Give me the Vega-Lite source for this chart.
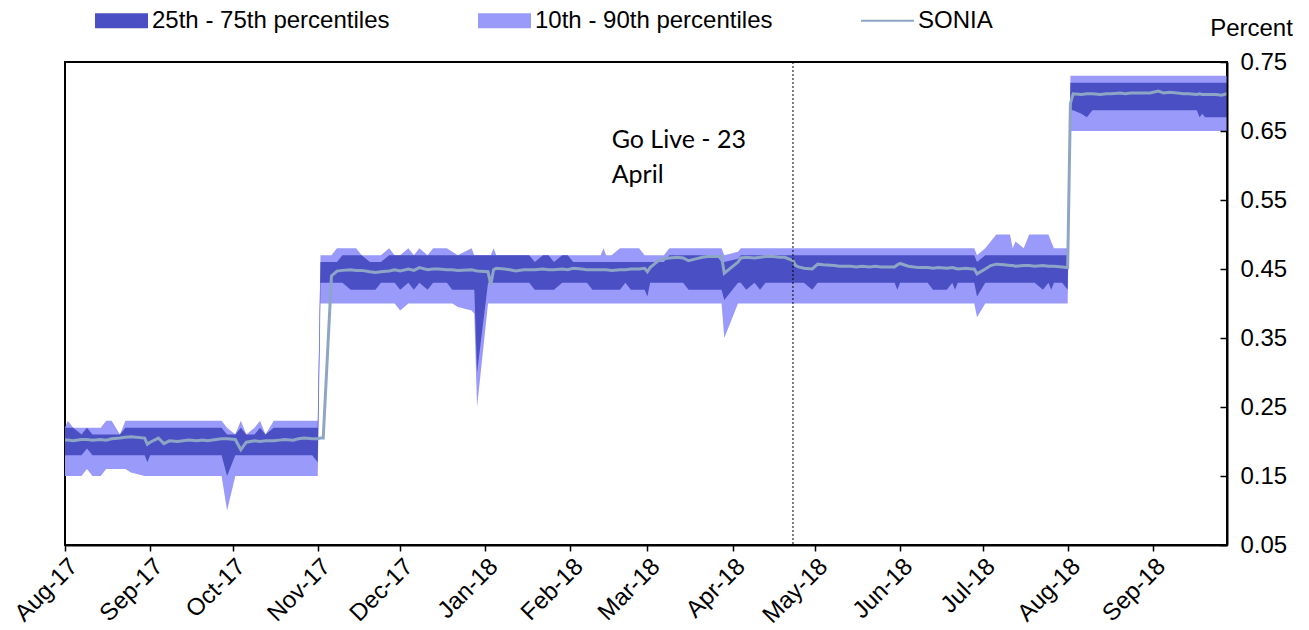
{
  "$schema": "https://vega.github.io/schema/vega-lite/v6.json",
  "width": 1162,
  "height": 483,
  "autosize": {"type": "none"},
  "padding": {"left": 65, "top": 62, "right": 82, "bottom": 85},
  "background": "white",
  "config": {
    "view": {"stroke": "black", "strokeWidth": 2},
    "axis": {"grid": false}
  },
  "layer": [
    {
      "data": {"values": [
        {"d":"2017-08-01","p10":0.15,"p25":0.18,"p75":0.22,"p90":0.22,"s":0.202},
        {"d":"2017-08-02","p10":0.15,"p25":0.18,"p75":0.22,"p90":0.23,"s":0.202},
        {"d":"2017-08-04","p10":0.15,"p25":0.18,"p75":0.22,"p90":0.22,"s":0.201},
        {"d":"2017-08-07","p10":0.15,"p25":0.18,"p75":0.21,"p90":0.22,"s":0.203},
        {"d":"2017-08-09","p10":0.16,"p25":0.19,"p75":0.22,"p90":0.22,"s":0.203},
        {"d":"2017-08-11","p10":0.15,"p25":0.18,"p75":0.21,"p90":0.22,"s":0.202},
        {"d":"2017-08-14","p10":0.15,"p25":0.18,"p75":0.21,"p90":0.22,"s":0.203},
        {"d":"2017-08-16","p10":0.16,"p25":0.18,"p75":0.21,"p90":0.23,"s":0.202},
        {"d":"2017-08-18","p10":0.16,"p25":0.18,"p75":0.21,"p90":0.23,"s":0.204},
        {"d":"2017-08-21","p10":0.16,"p25":0.18,"p75":0.21,"p90":0.21,"s":0.205},
        {"d":"2017-08-23","p10":0.16,"p25":0.18,"p75":0.22,"p90":0.23,"s":0.206},
        {"d":"2017-08-25","p10":0.155,"p25":0.18,"p75":0.22,"p90":0.23,"s":0.207},
        {"d":"2017-08-30","p10":0.15,"p25":0.18,"p75":0.22,"p90":0.23,"s":0.205},
        {"d":"2017-08-31","p10":0.15,"p25":0.17,"p75":0.22,"p90":0.23,"s":0.196},
        {"d":"2017-09-01","p10":0.15,"p25":0.18,"p75":0.22,"p90":0.23,"s":0.199},
        {"d":"2017-09-04","p10":0.15,"p25":0.18,"p75":0.22,"p90":0.23,"s":0.205},
        {"d":"2017-09-06","p10":0.15,"p25":0.18,"p75":0.22,"p90":0.23,"s":0.197},
        {"d":"2017-09-08","p10":0.15,"p25":0.18,"p75":0.22,"p90":0.23,"s":0.201},
        {"d":"2017-09-11","p10":0.15,"p25":0.18,"p75":0.22,"p90":0.23,"s":0.200},
        {"d":"2017-09-13","p10":0.15,"p25":0.18,"p75":0.22,"p90":0.23,"s":0.201},
        {"d":"2017-09-15","p10":0.15,"p25":0.18,"p75":0.22,"p90":0.23,"s":0.202},
        {"d":"2017-09-18","p10":0.15,"p25":0.18,"p75":0.22,"p90":0.23,"s":0.201},
        {"d":"2017-09-20","p10":0.15,"p25":0.18,"p75":0.22,"p90":0.23,"s":0.202},
        {"d":"2017-09-22","p10":0.15,"p25":0.18,"p75":0.22,"p90":0.23,"s":0.201},
        {"d":"2017-09-25","p10":0.15,"p25":0.18,"p75":0.22,"p90":0.23,"s":0.203},
        {"d":"2017-09-27","p10":0.15,"p25":0.18,"p75":0.22,"p90":0.23,"s":0.204},
        {"d":"2017-09-29","p10":0.10,"p25":0.15,"p75":0.21,"p90":0.22,"s":0.204},
        {"d":"2017-10-02","p10":0.15,"p25":0.18,"p75":0.21,"p90":0.21,"s":0.203},
        {"d":"2017-10-04","p10":0.15,"p25":0.18,"p75":0.22,"p90":0.23,"s":0.188},
        {"d":"2017-10-06","p10":0.15,"p25":0.18,"p75":0.21,"p90":0.21,"s":0.199},
        {"d":"2017-10-09","p10":0.15,"p25":0.18,"p75":0.21,"p90":0.22,"s":0.201},
        {"d":"2017-10-11","p10":0.15,"p25":0.18,"p75":0.22,"p90":0.23,"s":0.200},
        {"d":"2017-10-13","p10":0.15,"p25":0.18,"p75":0.21,"p90":0.21,"s":0.201},
        {"d":"2017-10-16","p10":0.15,"p25":0.18,"p75":0.22,"p90":0.23,"s":0.201},
        {"d":"2017-10-18","p10":0.15,"p25":0.18,"p75":0.22,"p90":0.23,"s":0.202},
        {"d":"2017-10-20","p10":0.15,"p25":0.18,"p75":0.22,"p90":0.23,"s":0.203},
        {"d":"2017-10-23","p10":0.15,"p25":0.18,"p75":0.22,"p90":0.23,"s":0.202},
        {"d":"2017-10-25","p10":0.15,"p25":0.18,"p75":0.22,"p90":0.23,"s":0.204},
        {"d":"2017-10-27","p10":0.15,"p25":0.18,"p75":0.22,"p90":0.23,"s":0.205},
        {"d":"2017-10-30","p10":0.15,"p25":0.18,"p75":0.22,"p90":0.23,"s":0.204},
        {"d":"2017-11-01","p10":0.15,"p25":0.17,"p75":0.22,"p90":0.23,"s":0.204},
        {"d":"2017-11-02","p10":0.40,"p25":0.43,"p75":0.46,"p90":0.47,"s":0.205},
        {"d":"2017-11-03","p10":0.40,"p25":0.43,"p75":0.46,"p90":0.47,"s":0.205},
        {"d":"2017-11-06","p10":0.40,"p25":0.43,"p75":0.46,"p90":0.47,"s":0.440},
        {"d":"2017-11-08","p10":0.40,"p25":0.43,"p75":0.46,"p90":0.48,"s":0.447},
        {"d":"2017-11-10","p10":0.40,"p25":0.43,"p75":0.47,"p90":0.48,"s":0.448},
        {"d":"2017-11-13","p10":0.40,"p25":0.42,"p75":0.47,"p90":0.48,"s":0.449},
        {"d":"2017-11-15","p10":0.40,"p25":0.42,"p75":0.47,"p90":0.48,"s":0.448},
        {"d":"2017-11-17","p10":0.40,"p25":0.42,"p75":0.47,"p90":0.47,"s":0.448},
        {"d":"2017-11-20","p10":0.40,"p25":0.42,"p75":0.46,"p90":0.47,"s":0.446},
        {"d":"2017-11-22","p10":0.40,"p25":0.42,"p75":0.46,"p90":0.47,"s":0.445},
        {"d":"2017-11-24","p10":0.40,"p25":0.43,"p75":0.46,"p90":0.47,"s":0.446},
        {"d":"2017-11-27","p10":0.40,"p25":0.43,"p75":0.47,"p90":0.48,"s":0.447},
        {"d":"2017-11-29","p10":0.40,"p25":0.43,"p75":0.47,"p90":0.47,"s":0.449},
        {"d":"2017-12-01","p10":0.39,"p25":0.42,"p75":0.47,"p90":0.47,"s":0.447},
        {"d":"2017-12-04","p10":0.40,"p25":0.43,"p75":0.47,"p90":0.48,"s":0.450},
        {"d":"2017-12-06","p10":0.40,"p25":0.42,"p75":0.47,"p90":0.47,"s":0.448},
        {"d":"2017-12-08","p10":0.40,"p25":0.43,"p75":0.47,"p90":0.48,"s":0.452},
        {"d":"2017-12-11","p10":0.40,"p25":0.42,"p75":0.47,"p90":0.47,"s":0.449},
        {"d":"2017-12-13","p10":0.40,"p25":0.43,"p75":0.47,"p90":0.48,"s":0.450},
        {"d":"2017-12-15","p10":0.40,"p25":0.43,"p75":0.47,"p90":0.48,"s":0.450},
        {"d":"2017-12-18","p10":0.40,"p25":0.43,"p75":0.47,"p90":0.48,"s":0.449},
        {"d":"2017-12-20","p10":0.40,"p25":0.42,"p75":0.47,"p90":0.475,"s":0.449},
        {"d":"2017-12-22","p10":0.395,"p25":0.42,"p75":0.47,"p90":0.47,"s":0.448},
        {"d":"2017-12-27","p10":0.39,"p25":0.42,"p75":0.47,"p90":0.48,"s":0.449},
        {"d":"2017-12-28","p10":0.385,"p25":0.42,"p75":0.47,"p90":0.47,"s":0.448},
        {"d":"2017-12-29","p10":0.25,"p25":0.30,"p75":0.47,"p90":0.47,"s":0.447},
        {"d":"2018-01-02","p10":0.40,"p25":0.43,"p75":0.47,"p90":0.47,"s":0.446},
        {"d":"2018-01-03","p10":0.40,"p25":0.43,"p75":0.47,"p90":0.47,"s":0.427},
        {"d":"2018-01-04","p10":0.40,"p25":0.43,"p75":0.47,"p90":0.48,"s":0.449},
        {"d":"2018-01-05","p10":0.40,"p25":0.43,"p75":0.47,"p90":0.47,"s":0.451},
        {"d":"2018-01-08","p10":0.40,"p25":0.43,"p75":0.47,"p90":0.47,"s":0.450},
        {"d":"2018-01-10","p10":0.40,"p25":0.43,"p75":0.47,"p90":0.47,"s":0.449},
        {"d":"2018-01-12","p10":0.40,"p25":0.43,"p75":0.47,"p90":0.47,"s":0.447},
        {"d":"2018-01-15","p10":0.40,"p25":0.43,"p75":0.47,"p90":0.47,"s":0.449},
        {"d":"2018-01-17","p10":0.40,"p25":0.43,"p75":0.47,"p90":0.47,"s":0.449},
        {"d":"2018-01-19","p10":0.40,"p25":0.42,"p75":0.46,"p90":0.47,"s":0.449},
        {"d":"2018-01-22","p10":0.40,"p25":0.42,"p75":0.47,"p90":0.47,"s":0.450},
        {"d":"2018-01-24","p10":0.40,"p25":0.42,"p75":0.47,"p90":0.47,"s":0.449},
        {"d":"2018-01-26","p10":0.40,"p25":0.42,"p75":0.46,"p90":0.47,"s":0.449},
        {"d":"2018-01-29","p10":0.40,"p25":0.43,"p75":0.47,"p90":0.47,"s":0.450},
        {"d":"2018-01-31","p10":0.40,"p25":0.43,"p75":0.47,"p90":0.47,"s":0.449},
        {"d":"2018-02-02","p10":0.40,"p25":0.43,"p75":0.46,"p90":0.47,"s":0.451},
        {"d":"2018-02-05","p10":0.40,"p25":0.43,"p75":0.46,"p90":0.47,"s":0.450},
        {"d":"2018-02-07","p10":0.40,"p25":0.43,"p75":0.46,"p90":0.47,"s":0.449},
        {"d":"2018-02-09","p10":0.40,"p25":0.42,"p75":0.46,"p90":0.47,"s":0.449},
        {"d":"2018-02-12","p10":0.40,"p25":0.42,"p75":0.46,"p90":0.47,"s":0.449},
        {"d":"2018-02-13","p10":0.40,"p25":0.42,"p75":0.46,"p90":0.48,"s":0.449},
        {"d":"2018-02-14","p10":0.40,"p25":0.42,"p75":0.46,"p90":0.47,"s":0.449},
        {"d":"2018-02-16","p10":0.40,"p25":0.42,"p75":0.46,"p90":0.47,"s":0.448},
        {"d":"2018-02-19","p10":0.40,"p25":0.42,"p75":0.46,"p90":0.48,"s":0.449},
        {"d":"2018-02-21","p10":0.40,"p25":0.43,"p75":0.46,"p90":0.48,"s":0.449},
        {"d":"2018-02-23","p10":0.40,"p25":0.42,"p75":0.46,"p90":0.48,"s":0.450},
        {"d":"2018-02-26","p10":0.40,"p25":0.42,"p75":0.46,"p90":0.48,"s":0.450},
        {"d":"2018-02-28","p10":0.40,"p25":0.42,"p75":0.46,"p90":0.47,"s":0.451},
        {"d":"2018-03-01","p10":0.40,"p25":0.41,"p75":0.46,"p90":0.47,"s":0.446},
        {"d":"2018-03-02","p10":0.40,"p25":0.43,"p75":0.46,"p90":0.47,"s":0.452},
        {"d":"2018-03-05","p10":0.40,"p25":0.43,"p75":0.46,"p90":0.47,"s":0.462},
        {"d":"2018-03-07","p10":0.40,"p25":0.43,"p75":0.46,"p90":0.47,"s":0.465},
        {"d":"2018-03-09","p10":0.40,"p25":0.43,"p75":0.47,"p90":0.48,"s":0.466},
        {"d":"2018-03-12","p10":0.40,"p25":0.43,"p75":0.47,"p90":0.48,"s":0.467},
        {"d":"2018-03-14","p10":0.40,"p25":0.43,"p75":0.47,"p90":0.48,"s":0.466},
        {"d":"2018-03-16","p10":0.40,"p25":0.42,"p75":0.47,"p90":0.48,"s":0.462},
        {"d":"2018-03-19","p10":0.40,"p25":0.42,"p75":0.47,"p90":0.48,"s":0.465},
        {"d":"2018-03-21","p10":0.40,"p25":0.42,"p75":0.47,"p90":0.48,"s":0.467},
        {"d":"2018-03-23","p10":0.40,"p25":0.42,"p75":0.47,"p90":0.48,"s":0.468},
        {"d":"2018-03-26","p10":0.40,"p25":0.42,"p75":0.47,"p90":0.48,"s":0.468},
        {"d":"2018-03-28","p10":0.40,"p25":0.42,"p75":0.46,"p90":0.48,"s":0.468},
        {"d":"2018-03-29","p10":0.35,"p25":0.405,"p75":0.46,"p90":0.47,"s":0.444},
        {"d":"2018-04-03","p10":0.40,"p25":0.43,"p75":0.465,"p90":0.475,"s":0.460},
        {"d":"2018-04-04","p10":0.40,"p25":0.43,"p75":0.47,"p90":0.48,"s":0.466},
        {"d":"2018-04-06","p10":0.40,"p25":0.42,"p75":0.47,"p90":0.48,"s":0.467},
        {"d":"2018-04-09","p10":0.40,"p25":0.43,"p75":0.47,"p90":0.48,"s":0.466},
        {"d":"2018-04-11","p10":0.40,"p25":0.42,"p75":0.47,"p90":0.48,"s":0.467},
        {"d":"2018-04-13","p10":0.40,"p25":0.43,"p75":0.47,"p90":0.48,"s":0.468},
        {"d":"2018-04-16","p10":0.40,"p25":0.43,"p75":0.47,"p90":0.48,"s":0.468},
        {"d":"2018-04-18","p10":0.40,"p25":0.43,"p75":0.47,"p90":0.48,"s":0.467},
        {"d":"2018-04-20","p10":0.40,"p25":0.43,"p75":0.47,"p90":0.48,"s":0.467},
        {"d":"2018-04-23","p10":0.40,"p25":0.43,"p75":0.47,"p90":0.48,"s":0.462},
        {"d":"2018-04-24","p10":0.40,"p25":0.43,"p75":0.47,"p90":0.48,"s":0.455},
        {"d":"2018-04-25","p10":0.40,"p25":0.43,"p75":0.47,"p90":0.48,"s":0.453},
        {"d":"2018-04-27","p10":0.40,"p25":0.43,"p75":0.47,"p90":0.48,"s":0.451},
        {"d":"2018-04-30","p10":0.40,"p25":0.42,"p75":0.47,"p90":0.48,"s":0.450},
        {"d":"2018-05-02","p10":0.40,"p25":0.43,"p75":0.47,"p90":0.48,"s":0.457},
        {"d":"2018-05-04","p10":0.40,"p25":0.43,"p75":0.47,"p90":0.48,"s":0.456},
        {"d":"2018-05-08","p10":0.40,"p25":0.43,"p75":0.47,"p90":0.48,"s":0.455},
        {"d":"2018-05-10","p10":0.40,"p25":0.43,"p75":0.47,"p90":0.48,"s":0.454},
        {"d":"2018-05-14","p10":0.40,"p25":0.43,"p75":0.47,"p90":0.48,"s":0.454},
        {"d":"2018-05-16","p10":0.40,"p25":0.43,"p75":0.47,"p90":0.48,"s":0.453},
        {"d":"2018-05-18","p10":0.40,"p25":0.43,"p75":0.47,"p90":0.48,"s":0.454},
        {"d":"2018-05-21","p10":0.40,"p25":0.43,"p75":0.47,"p90":0.48,"s":0.453},
        {"d":"2018-05-23","p10":0.40,"p25":0.43,"p75":0.47,"p90":0.48,"s":0.454},
        {"d":"2018-05-25","p10":0.40,"p25":0.43,"p75":0.47,"p90":0.48,"s":0.453},
        {"d":"2018-05-30","p10":0.40,"p25":0.43,"p75":0.47,"p90":0.48,"s":0.453},
        {"d":"2018-05-31","p10":0.40,"p25":0.42,"p75":0.47,"p90":0.48,"s":0.456},
        {"d":"2018-06-01","p10":0.40,"p25":0.43,"p75":0.47,"p90":0.48,"s":0.458},
        {"d":"2018-06-04","p10":0.40,"p25":0.43,"p75":0.47,"p90":0.48,"s":0.454},
        {"d":"2018-06-06","p10":0.40,"p25":0.43,"p75":0.47,"p90":0.48,"s":0.453},
        {"d":"2018-06-08","p10":0.40,"p25":0.43,"p75":0.47,"p90":0.48,"s":0.452},
        {"d":"2018-06-11","p10":0.40,"p25":0.43,"p75":0.47,"p90":0.48,"s":0.452},
        {"d":"2018-06-13","p10":0.40,"p25":0.42,"p75":0.47,"p90":0.48,"s":0.451},
        {"d":"2018-06-15","p10":0.40,"p25":0.42,"p75":0.47,"p90":0.48,"s":0.452},
        {"d":"2018-06-18","p10":0.40,"p25":0.42,"p75":0.47,"p90":0.48,"s":0.451},
        {"d":"2018-06-20","p10":0.40,"p25":0.43,"p75":0.47,"p90":0.48,"s":0.452},
        {"d":"2018-06-21","p10":0.40,"p25":0.42,"p75":0.47,"p90":0.48,"s":0.451},
        {"d":"2018-06-22","p10":0.40,"p25":0.43,"p75":0.47,"p90":0.48,"s":0.450},
        {"d":"2018-06-25","p10":0.40,"p25":0.43,"p75":0.47,"p90":0.48,"s":0.451},
        {"d":"2018-06-27","p10":0.40,"p25":0.43,"p75":0.47,"p90":0.48,"s":0.450},
        {"d":"2018-06-28","p10":0.40,"p25":0.43,"p75":0.47,"p90":0.48,"s":0.450},
        {"d":"2018-06-29","p10":0.38,"p25":0.41,"p75":0.46,"p90":0.47,"s":0.443},
        {"d":"2018-07-02","p10":0.40,"p25":0.43,"p75":0.47,"p90":0.48,"s":0.450},
        {"d":"2018-07-04","p10":0.40,"p25":0.43,"p75":0.47,"p90":0.49,"s":0.455},
        {"d":"2018-07-06","p10":0.40,"p25":0.43,"p75":0.47,"p90":0.50,"s":0.457},
        {"d":"2018-07-09","p10":0.40,"p25":0.43,"p75":0.47,"p90":0.50,"s":0.456},
        {"d":"2018-07-11","p10":0.40,"p25":0.43,"p75":0.47,"p90":0.50,"s":0.455},
        {"d":"2018-07-12","p10":0.40,"p25":0.43,"p75":0.47,"p90":0.48,"s":0.455},
        {"d":"2018-07-13","p10":0.40,"p25":0.43,"p75":0.47,"p90":0.49,"s":0.454},
        {"d":"2018-07-16","p10":0.40,"p25":0.43,"p75":0.47,"p90":0.48,"s":0.455},
        {"d":"2018-07-18","p10":0.40,"p25":0.43,"p75":0.47,"p90":0.50,"s":0.455},
        {"d":"2018-07-20","p10":0.40,"p25":0.43,"p75":0.47,"p90":0.50,"s":0.454},
        {"d":"2018-07-23","p10":0.40,"p25":0.42,"p75":0.47,"p90":0.50,"s":0.455},
        {"d":"2018-07-25","p10":0.40,"p25":0.43,"p75":0.47,"p90":0.50,"s":0.454},
        {"d":"2018-07-26","p10":0.40,"p25":0.42,"p75":0.47,"p90":0.49,"s":0.454},
        {"d":"2018-07-27","p10":0.40,"p25":0.43,"p75":0.47,"p90":0.48,"s":0.454},
        {"d":"2018-07-30","p10":0.40,"p25":0.43,"p75":0.47,"p90":0.48,"s":0.453},
        {"d":"2018-08-01","p10":0.40,"p25":0.42,"p75":0.47,"p90":0.48,"s":0.452},
        {"d":"2018-08-02","p10":0.65,"p25":0.68,"p75":0.72,"p90":0.73,"s":0.690},
        {"d":"2018-08-03","p10":0.65,"p25":0.68,"p75":0.72,"p90":0.73,"s":0.704},
        {"d":"2018-08-06","p10":0.65,"p25":0.675,"p75":0.72,"p90":0.73,"s":0.703},
        {"d":"2018-08-08","p10":0.65,"p25":0.67,"p75":0.72,"p90":0.73,"s":0.704},
        {"d":"2018-08-10","p10":0.65,"p25":0.68,"p75":0.72,"p90":0.73,"s":0.704},
        {"d":"2018-08-13","p10":0.65,"p25":0.68,"p75":0.72,"p90":0.73,"s":0.703},
        {"d":"2018-08-15","p10":0.65,"p25":0.68,"p75":0.72,"p90":0.73,"s":0.704},
        {"d":"2018-08-17","p10":0.65,"p25":0.68,"p75":0.72,"p90":0.73,"s":0.704},
        {"d":"2018-08-20","p10":0.65,"p25":0.68,"p75":0.72,"p90":0.73,"s":0.705},
        {"d":"2018-08-22","p10":0.65,"p25":0.68,"p75":0.72,"p90":0.73,"s":0.704},
        {"d":"2018-08-24","p10":0.65,"p25":0.68,"p75":0.72,"p90":0.73,"s":0.705},
        {"d":"2018-08-29","p10":0.65,"p25":0.68,"p75":0.72,"p90":0.73,"s":0.705},
        {"d":"2018-08-31","p10":0.65,"p25":0.68,"p75":0.72,"p90":0.73,"s":0.705},
        {"d":"2018-09-03","p10":0.65,"p25":0.68,"p75":0.72,"p90":0.73,"s":0.708},
        {"d":"2018-09-05","p10":0.65,"p25":0.68,"p75":0.72,"p90":0.73,"s":0.705},
        {"d":"2018-09-07","p10":0.65,"p25":0.68,"p75":0.72,"p90":0.73,"s":0.706},
        {"d":"2018-09-10","p10":0.65,"p25":0.68,"p75":0.72,"p90":0.73,"s":0.705},
        {"d":"2018-09-12","p10":0.65,"p25":0.68,"p75":0.72,"p90":0.73,"s":0.704},
        {"d":"2018-09-14","p10":0.65,"p25":0.68,"p75":0.72,"p90":0.73,"s":0.704},
        {"d":"2018-09-17","p10":0.65,"p25":0.68,"p75":0.72,"p90":0.73,"s":0.703},
        {"d":"2018-09-18","p10":0.65,"p25":0.67,"p75":0.72,"p90":0.73,"s":0.704},
        {"d":"2018-09-19","p10":0.65,"p25":0.675,"p75":0.72,"p90":0.73,"s":0.703},
        {"d":"2018-09-20","p10":0.65,"p25":0.67,"p75":0.72,"p90":0.73,"s":0.703},
        {"d":"2018-09-24","p10":0.65,"p25":0.67,"p75":0.72,"p90":0.73,"s":0.703},
        {"d":"2018-09-26","p10":0.65,"p25":0.67,"p75":0.72,"p90":0.73,"s":0.702},
        {"d":"2018-09-28","p10":0.65,"p25":0.67,"p75":0.72,"p90":0.73,"s":0.704}
      ]},
      "layer": [
        {
          "mark": {"type": "area", "interpolate": "linear"},
          "encoding": {
            "x": {
              "field": "d", "type": "temporal",
              "scale": {"type": "utc", "domain": ["2017-08-01", "2018-09-28"]},
              "axis": {
                "title": null, "format": "%b-%y",
                "tickCount": {"interval": "month", "step": 1},
                "labelAngle": -45, "labelAlign": "right", "labelBaseline": "top",
                "labelFont": "Liberation Sans", "labelFontSize": 24, "labelColor": "black",
                "labelPadding": 3, "labelFlush": false, "labelOverlap": false, "labelBound": false,
                "tickColor": "black", "tickSize": 6, "tickWidth": 1.5,
                "domainColor": "black", "domainWidth": 2, "zindex": 1
              }
            },
            "y": {
              "field": "p10", "type": "quantitative",
              "scale": {"domain": [0.05, 0.75], "nice": false, "zero": false},
              "axis": {
                "orient": "right",
                "values": [0.05, 0.15, 0.25, 0.35, 0.45, 0.55, 0.65, 0.75],
                "format": ".2f",
                "labelFont": "Liberation Sans", "labelFontSize": 24, "labelColor": "black",
                "labelPadding": 20, "labelFlush": false, "labelOverlap": false, "labelBound": false,
                "tickColor": "black", "tickSize": -7, "tickWidth": 1.5,
                "domainColor": "black", "domainWidth": 2, "zindex": 1,
                "title": "Percent", "titleAngle": 0, "titleFont": "Liberation Sans",
                "titleFontSize": 24, "titleFontWeight": "normal", "titleColor": "black",
                "titleX": 24, "titleY": -34, "titleAlign": "center", "titleBaseline": "middle"
              }
            },
            "y2": {"field": "p90"},
            "color": {
              "datum": "10th - 90th percentiles",
              "type": "nominal",
              "scale": {
                "domain": ["25th - 75th percentiles", "10th - 90th percentiles", "SONIA"],
                "range": ["#4B4FC4", "#9A9AFB", "#8DA6C6"]
              },
              "legend": {
                "title": null,
                "orient": "none", "legendX": 30, "legendY": -68,
                "direction": "horizontal", "columns": 3, "gridAlign": "all", "columnPadding": 88,
                "symbolSize": 2809, "symbolStrokeWidth": 0,
                "labelFont": "Liberation Sans", "labelFontSize": 24, "labelColor": "black", "labelOffset": 4, "labelLimit": 0,
                "encode": {
                  "symbols": {
                    "update": {
                      "shape": {"signal": "datum.label === 'SONIA' ? 'M-1,-0.035L1,-0.035L1,0.035L-1,0.035Z' : 'M-1,-0.28L1,-0.28L1,0.28L-1,0.28Z'"},
                      "fill": {"signal": "scale('color', datum.value)"},
                      "stroke": {"value": "transparent"},
                      "strokeWidth": {"value": 0},
                      "opacity": {"value": 1},
                      "fillOpacity": {"value": 1}
                    }
                  }
                }
              }
            }
          }
        },
        {
          "mark": {"type": "area", "interpolate": "linear"},
          "encoding": {
            "x": {"field": "d", "type": "temporal"},
            "y": {"field": "p25", "type": "quantitative"},
            "y2": {"field": "p75"},
            "color": {"datum": "25th - 75th percentiles", "type": "nominal"}
          }
        },
        {
          "mark": {"type": "line", "strokeWidth": 3, "interpolate": "linear"},
          "encoding": {
            "x": {"field": "d", "type": "temporal"},
            "y": {"field": "s", "type": "quantitative"},
            "color": {"datum": "SONIA", "type": "nominal"}
          }
        }
      ]
    },
    {
      "data": {"values": [{"d": "2018-04-23"}]},
      "mark": {"type": "rule", "color": "black", "strokeWidth": 1, "strokeDash": [2, 2]},
      "encoding": {"x": {"field": "d", "type": "temporal"}}
    },
    {
      "data": {"values": [{"d": "2018-02-16", "v": 0.625, "t": ["Go Live - 23", "April"]}]},
      "mark": {"type": "text", "align": "left", "baseline": "alphabetic", "font": "Lato", "fontSize": 25, "lineHeight": 35, "color": "black"},
      "encoding": {
        "x": {"field": "d", "type": "temporal"},
        "y": {"field": "v", "type": "quantitative"},
        "text": {"field": "t"}
      }
    }
  ]
}
